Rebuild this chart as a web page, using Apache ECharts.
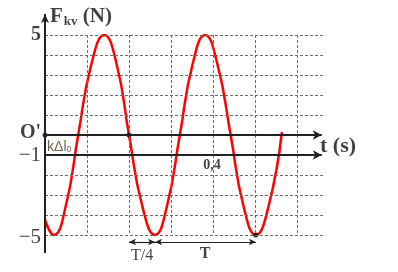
<!DOCTYPE html>
<html><head><meta charset="utf-8">
<script src="https://cdn.jsdelivr.net/npm/echarts@6/dist/echarts.min.js"></script>
<style>html,body{margin:0;padding:0;background:#fff}#c{width:398px;height:272px}</style>
</head><body><div id="c"></div>
<script>
// ---- data ----
const curveT = [0, 0.021, 0.050, 0.079, 0.110, 0.141, 0.171, 0.200, 0.231, 0.262, 0.291, 0.321, 0.351, 0.381, 0.411, 0.442, 0.472, 0.502, 0.533, 0.564];
const curveF = [-4.25, -5, -3.5, 0, 3.5, 5, 3.5, 0, -3.5, -5, -3.5, 0, 3.5, 5, 3.5, 0, -3.5, -5, -3.5, 0.15];
const gridT = [0.1, 0.2, 0.3, 0.4, 0.5, 0.6];
const gridF = [5, 4, 3, 2, 1, -2, -3, -4, -5];
const arrowLinesF = [0, -1];
const yTickValues = [5, 0, -1, -5];
const yTickLabels = ['5', "O'", '\u22121', '\u22125'];
const dotsT = [0, 0.2, 0.502];
const dotsF = [0, 0, -5];
const xTickValue = 0.4;
const xTickLabel = '0,4';
const quarterStartT = 0.2, quarterEndT = 0.262;
const periodEndT = 0.502;
const spanF = -5.35;

const serif = "'Liberation Serif','Times New Roman',serif";
const sans = "'Liberation Sans',Arial,sans-serif";

const gridEndT = 0.662, arrowEndT = 0.659;
const gridLines = [];
gridF.forEach(v => gridLines.push([{coord: [0, v]}, {coord: [gridEndT, v]}]));
gridT.forEach(t => gridLines.push([{coord: [t, 5]}, {coord: [t, -5]}]));

const solidLines = arrowLinesF.map(v => [{coord: [0, v], symbol: 'none'}, {coord: [arrowEndT, v], symbol: 'arrow', symbolSize: [7, 9]}]);
solidLines.push([{coord: [0, -5.9], symbol: 'none'}, {coord: [0, 6.05], symbol: 'arrow', symbolSize: [6, 9]}]);

const spanLines = [
  [{coord: [quarterStartT, spanF], symbol: 'arrow', symbolSize: [5, 7]}, {coord: [quarterEndT, spanF], symbol: 'arrow', symbolSize: [5, 7]}],
  [{coord: [quarterEndT, spanF], symbol: 'arrow', symbolSize: [5, 7]}, {coord: [periodEndT, spanF], symbol: 'arrow', symbolSize: [5, 7]}]
];

const yTickRich = [
  {fontFamily: serif, fontWeight: 'bold', fontSize: 20, offset: [0, 0]},
  {fontFamily: serif, fontWeight: 'bold', fontSize: 20, offset: [0, -2]},
  {fontFamily: serif, fontWeight: 'normal', fontSize: 21, offset: [0, 0]},
  {fontFamily: serif, fontWeight: 'normal', fontSize: 21, offset: [0, 2]}
];

const texts = [];
yTickValues.forEach((v, i) => {
  const s = yTickRich[i];
  texts.push({value: [0, v], label: {show: true, position: 'left', distance: 4, offset: s.offset,
    formatter: yTickLabels[i], fontFamily: s.fontFamily, fontWeight: s.fontWeight, fontSize: s.fontSize, color: '#111'}});
});
texts.push({value: [0.012, 5.9], label: {show: true, position: [0, 0], align: 'left', verticalAlign: 'middle',
  formatter: '{a|F}{b|kv}{a| (N)}',
  rich: {a: {fontFamily: serif, fontWeight: 'bold', fontSize: 21, color: '#111'},
         b: {fontFamily: serif, fontWeight: 'bold', fontSize: 13, color: '#111', padding: [9, 0, 0, 1]}}}});
texts.push({value: [0.6548, -0.55], label: {show: true, position: [0, 0], align: 'left', verticalAlign: 'middle',
  formatter: 't (s)', fontFamily: serif, fontWeight: 'bold', fontSize: 22, color: '#111'}});
texts.push({value: [xTickValue - 0.0024, -1.5], label: {show: true, position: [0, 0], align: 'center', verticalAlign: 'middle',
  formatter: xTickLabel, fontFamily: serif, fontWeight: 'bold', fontSize: 14, color: '#111'}});
texts.push({value: [0.005, -0.6], label: {show: true, position: [0, 0], align: 'left', verticalAlign: 'middle',
  formatter: '{a|k\u0394l}{b|0}',
  rich: {a: {fontFamily: sans, fontSize: 14, color: '#4d3b22'},
         b: {fontFamily: sans, fontSize: 9, color: '#4d3b22', padding: [6, 0, 0, 0]}}}});
texts.push({value: [(quarterStartT + quarterEndT) / 2, -6.05], label: {show: true, position: [0, 0], align: 'center', verticalAlign: 'middle',
  formatter: 'T/4', fontFamily: serif, fontSize: 16, color: '#111'}});
texts.push({value: [0.381, -5.95], label: {show: true, position: [0, 0], align: 'center', verticalAlign: 'middle',
  formatter: 'T', fontFamily: serif, fontWeight: 'bold', fontSize: 16, color: '#111'}});

const chart = echarts.init(document.getElementById('c'), null, {renderer: 'canvas'});
chart.setOption({
  animation: false,
  backgroundColor: '#fff',
  grid: {left: 0, right: 0, top: 0, bottom: 0},
  xAxis: {type: 'value', min: -0.107143, max: 0.840476, show: false},
  yAxis: {type: 'value', min: -6.85, max: 6.75, show: false},
  series: [
    {type: 'line', data: [], silent: true, z: 1,
      markLine: {silent: true, symbol: ['none', 'none'], label: {show: false},
        lineStyle: {type: [3, 2], color: '#6e6e6e', width: 1}, emphasis: {disabled: true}, data: gridLines}},
    {type: 'line', data: [], silent: true, z: 2,
      markLine: {silent: true, label: {show: false}, lineStyle: {type: 'solid', color: '#222', width: 2}, emphasis: {disabled: true}, data: solidLines}},
    {type: 'line', data: [], silent: true, z: 2,
      markLine: {silent: true, label: {show: false}, lineStyle: {type: 'solid', color: '#222', width: 1.2}, emphasis: {disabled: true}, data: spanLines}},
    {type: 'line', z: 3, smooth: 0.5, symbol: 'none', silent: true,
      lineStyle: {color: '#ff0000', width: 2.5},
      data: curveT.map((t, i) => [t, curveF[i]])},
    {type: 'scatter', z: 4, symbolSize: 5, silent: true, itemStyle: {color: '#000'},
      data: dotsT.map((t, i) => [t, dotsF[i]])},
    {type: 'scatter', z: 5, symbolSize: 0, silent: true, clip: false, data: texts}
  ]
});
</script></body></html>
